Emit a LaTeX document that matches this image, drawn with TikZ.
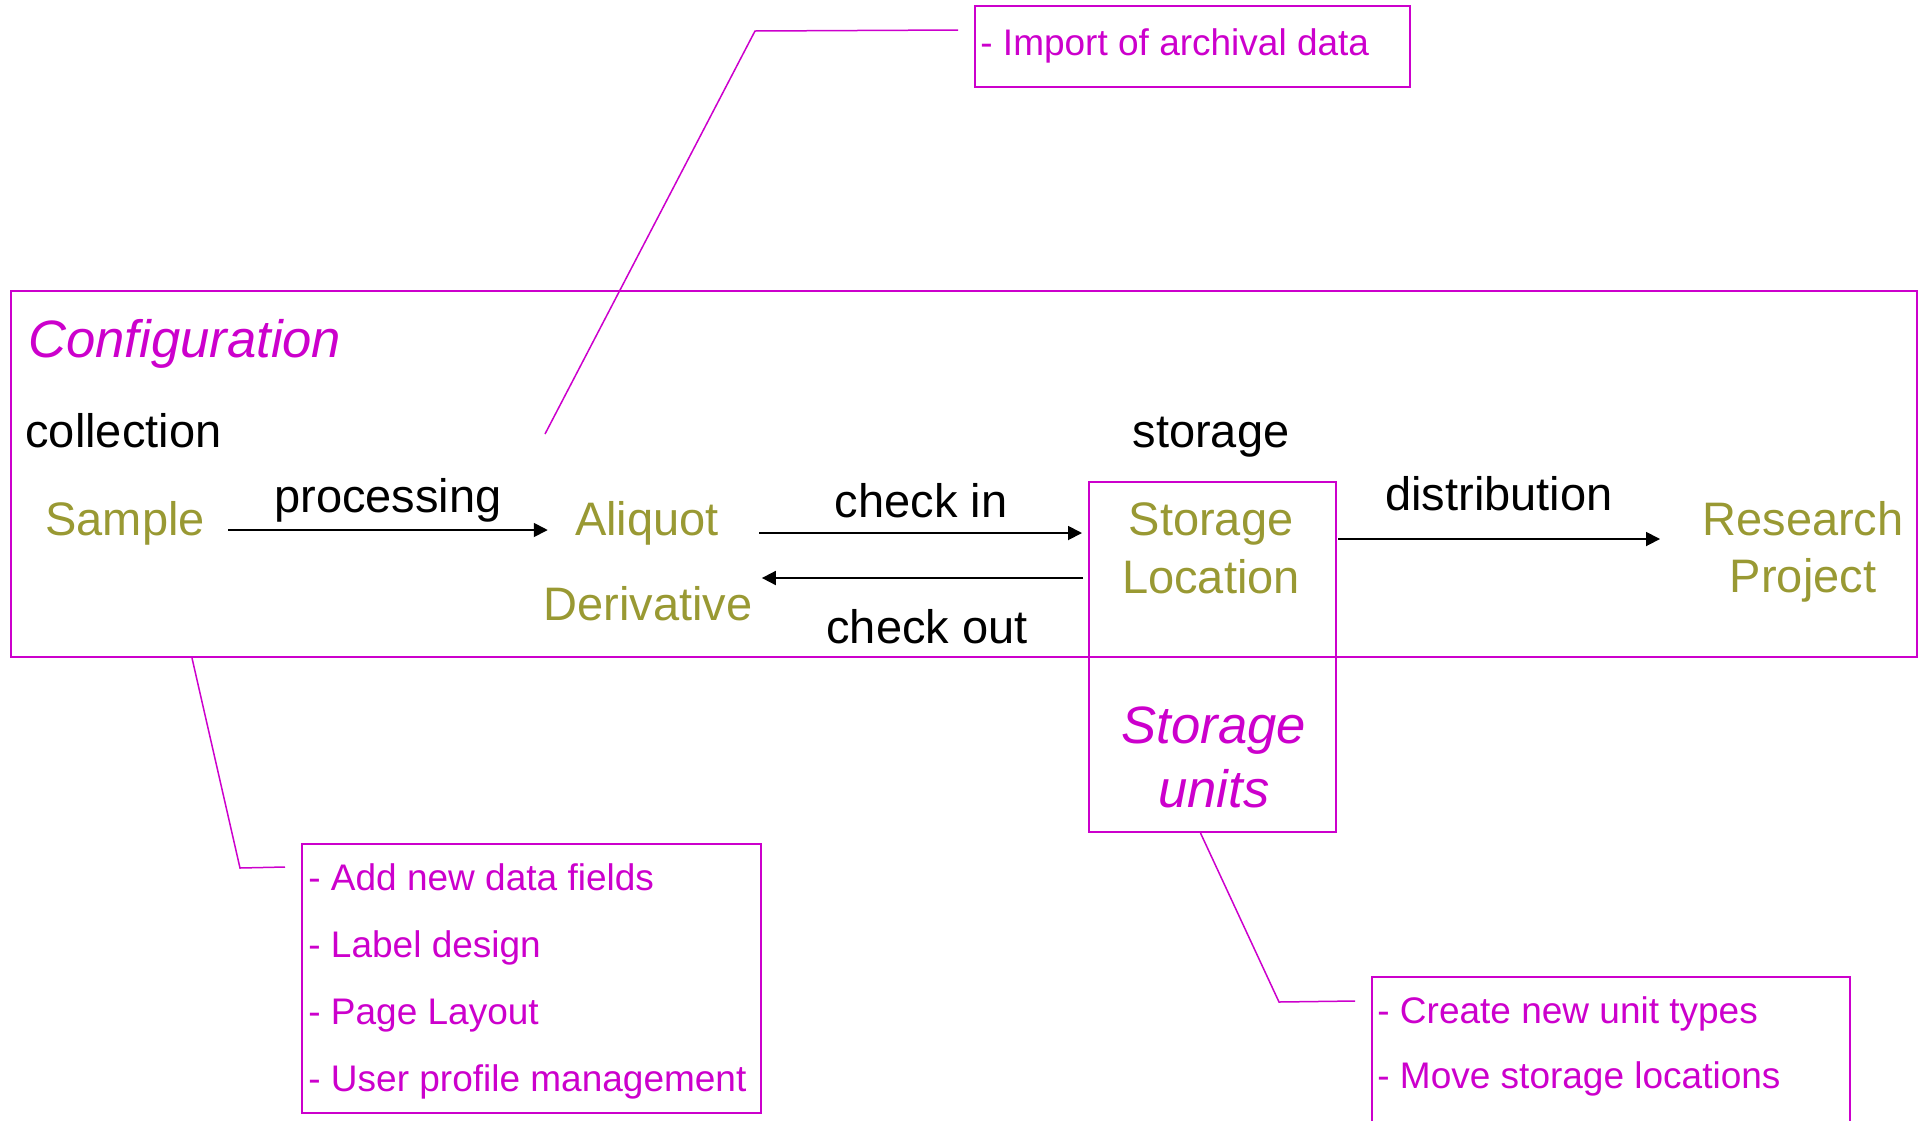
\documentclass[tikz,border=0pt]{standalone}
\usepackage{fontspec}
\setmainfont{Liberation Sans}
\usetikzlibrary{arrows.meta,calc}

\definecolor{cfgpink}{RGB}{204,0,204}
\definecolor{itemolive}{RGB}{153,153,51}

\tikzset{
  lbl/.style={anchor=base,inner sep=0pt,font=\fontsize{23.5}{28}\selectfont},
  item/.style={lbl,text=itemolive},
  note/.style={anchor=base west,inner sep=0pt,text=cfgpink,font=\fontsize{18.5}{22}\selectfont},
  title/.style={anchor=base,inner sep=0pt,text=cfgpink,font=\fontsize{26.3}{31}\selectfont\itshape},
  frame/.style={draw=cfgpink,line width=1pt,inner sep=0pt},
  leader/.style={draw=cfgpink,line width=0.75pt},
  flow/.style={-{Triangle[length=7pt,width=7pt]},line width=0.9pt}
}

\begin{document}
\begin{tikzpicture}[x=0.5pt,y=-0.5pt]
    \useasboundingbox (0,0) rectangle (1927,1120);

    % Define the boxes
    \node[frame,minimum width=953pt,minimum height=183pt] (config) at (964,474) {};
    \node[frame,minimum width=123.5pt,minimum height=175pt] (stbox) at (1212.5,657) {};
    \node[frame,minimum width=217.5pt,minimum height=40.5pt] (importbox) at (1192.5,46.5) {};
    \node[frame,minimum width=229.5pt,minimum height=134.5pt] (fieldsbox) at (531.5,978.5) {};
    \node[frame,minimum width=239pt,minimum height=81.5pt] (unitsbox) at (1611,1058.5) {};

    % Titles
    \node[title,anchor=base west] (cfgtitle) at (28,357) {Configuration};
    \node[title] (unitsA) at (1214,743) {Storage};
    \node[title] (unitsB) at (1214,807) {units};

    % Stages and items
    \node[lbl,anchor=base west] (collection) at (25,447) {collection};
    \node[lbl] (storage) at (1211,447) {storage};
    \node[item,anchor=base west] (sample) at (45,535) {Sample};
    \node[item] (aliquot) at (647,535) {Aliquot};
    \node[item] (deriv) at (648,620) {Derivative};
    \node[item] (stor) at (1211,535) {Storage};
    \node[item] (loc) at (1211,593) {Location};
    \node[item] (research) at (1803,535) {Research};
    \node[item] (project) at (1803,592) {Project};

    % Arrow labels
    \node[lbl] (processing) at (388,512) {processing};
    \node[lbl] (checkin) at (921,517) {check in};
    \node[lbl] (checkout) at (927,643) {check out};
    \node[lbl] (distribution) at (1499,510) {distribution};

    % Draw the arrows
    \draw[flow] ($(sample.base east)+(23,-5)$) -- ($(aliquot.base west)+(-27,-5)$);
    \draw[flow] ($(aliquot.base east)+(40,-2)$) -- ($(stbox.west |- aliquot.base)+(-6,-2)$);
    \draw[flow] ($(stbox.west |- loc.base)+(-5,-15)$) -- ($(deriv.base east)+(9,-42)$);
    \draw[flow] ($(stbox.east |- stor.base)+(1,4)$) -- ($(research.base west)+(-42,4)$);

    % Callout texts
    \node[note] (import) at (980,55) {- Import of archival data};
    \node[note] (fieldA) at (308,890) {- Add new data fields};
    \node[note] (fieldB) at (308,957) {- Label design};
    \node[note] (fieldC) at (308,1024) {- Page Layout};
    \node[note] (fieldD) at (308,1091) {- User profile management};
    \node[note] (unitA) at (1377,1023) {- Create new unit types};
    \node[note] (unitB) at (1377,1088) {- Move storage locations};

    % Callout leaders
    \coordinate (impfoot) at (545,434);
    \draw[leader] (impfoot) -- (755,31) -- ($(importbox.north west)+(-16,25)$);
    \draw[leader] ($(config.south west)+(182,0)$) -- (240,868) -- ($(fieldsbox.north west)+(-16,24)$);
    \draw[leader] ($(stbox.south)+(-12,0)$) -- (1279,1002) -- ($(unitsbox.north west)+(-16,25)$);
\end{tikzpicture}
\end{document}
